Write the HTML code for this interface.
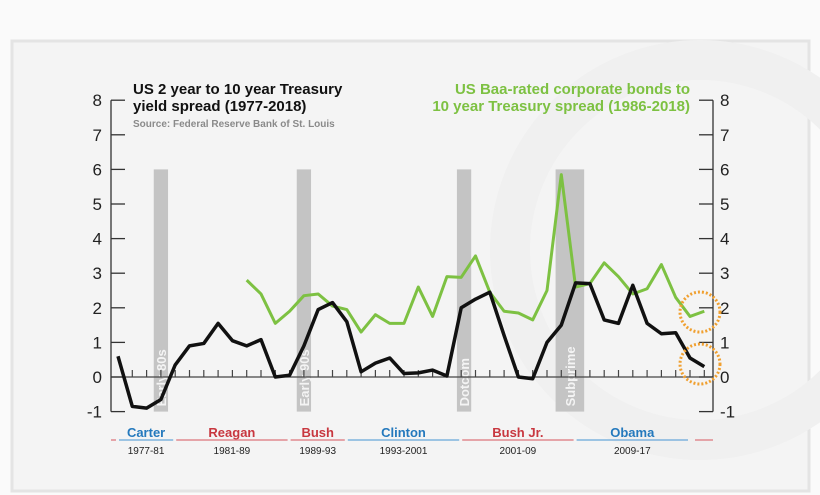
<!DOCTYPE html>
<html><head><meta charset="utf-8"><style>
body{margin:0;background:#fafafa;}
svg{display:block;font-family:"Liberation Sans",sans-serif;}
</style></head><body>
<svg width="820" height="495" viewBox="0 0 820 495">
<rect x="0" y="0" width="820" height="495" fill="#fafafa"/>
<rect x="12" y="41" width="797" height="450" fill="#f4f4f4" stroke="#e4e4e4" stroke-width="3"/>
<circle cx="700" cy="250" r="190" fill="none" stroke="#f0f0f0" stroke-width="40"/>
<g id="bars"></g>
<g id="axes"></g>
<g id="series"></g>
<g>
<text x="133" y="94" font-size="15" font-weight="bold" fill="#111">US 2 year to 10 year Treasury</text>
<text x="133" y="111" font-size="15" font-weight="bold" fill="#111">yield spread (1977-2018)</text>
<text x="133" y="127" font-size="10" font-weight="bold" fill="#8a8a8a">Source: Federal Reserve Bank of St. Louis</text>
</g>
<g text-anchor="end">
<text x="690" y="94" font-size="15" font-weight="bold" fill="#7dc142">US Baa-rated corporate bonds to</text>
<text x="690" y="111" font-size="15" font-weight="bold" fill="#7dc142">10 year Treasury spread (1986-2018)</text>
</g>
<g id="pres"></g>
<circle cx="700" cy="312" r="20" fill="none" stroke="#f0a030" stroke-width="3" stroke-dasharray="2 2"/>
<circle cx="700" cy="364" r="20" fill="none" stroke="#f0a030" stroke-width="3" stroke-dasharray="2 2"/>
</svg>
<script>
const years = [];
for (let y = 1977; y <= 2018; y++) years.push(y);
const treasurySpread = [0.6,-0.85,-0.9,-0.65,0.35,0.9,0.97,1.55,1.05,0.9,1.08,0.0,0.05,0.9,1.95,2.15,1.6,0.15,0.4,0.55,0.1,0.12,0.2,0.03,2.0,2.25,2.45,1.2,0.0,-0.05,1.0,1.5,2.72,2.7,1.65,1.55,2.65,1.55,1.25,1.28,0.55,0.3];
const baaYears = [];
for (let y = 1986; y <= 2018; y++) baaYears.push(y);
const baaSpread = [2.8,2.4,1.55,1.9,2.35,2.4,2.05,1.95,1.3,1.8,1.55,1.55,2.6,1.75,2.9,2.88,3.5,2.45,1.9,1.85,1.65,2.5,5.85,2.6,2.7,3.3,2.9,2.4,2.55,3.25,2.3,1.75,1.9];
const yTicks = [-1,0,1,2,3,4,5,6,7,8];
const recessionNames = ["Early 80s","Early 90s","Dotcom","Subprime"];
const recessionStart = [1979.5,1989.5,2000.7,2007.6];
const recessionEnd = [1980.5,1990.5,2001.7,2009.6];
const presNames = ["Carter","Reagan","Bush","Clinton","Bush Jr.","Obama"];
const presTerms = ["1977-81","1981-89","1989-93","1993-2001","2001-09","2009-17"];
const presStart = [1977,1981,1989,1993,2001,2009];
const presEnd = [1981,1989,1993,2001,2009,2017];
const presParty = ["D","R","R","D","R","D"];

const NS = "http://www.w3.org/2000/svg";
const xS = y => 118 + (y - 1977) * 14.3;
const yS = v => 377 - v * 34.6;
function mk(tag, attrs, parent, text){const e=document.createElementNS(NS,tag);for(const k in attrs)e.setAttribute(k,attrs[k]);if(text!==undefined)e.textContent=text;parent.appendChild(e);return e;}

const bars = document.getElementById('bars');
recessionNames.forEach((n,i)=>{
  const x0=xS(recessionStart[i]), x1=xS(recessionEnd[i]);
  const r=mk('rect',{x:x0,y:yS(6),width:x1-x0,height:yS(-1)-yS(6),fill:'#c4c4c4'},bars);
  
  
  const cx=(x0+x1)/2;
  const t=mk('text',{x:0,y:0,transform:`translate(${cx+5},${yS(-0.85)}) rotate(-90)`,'font-size':13,'font-weight':'bold',fill:'#f4f4f4'},bars,n);
  
  
});

const ax = document.getElementById('axes');
mk('line',{x1:111,y1:yS(8),x2:111,y2:yS(-1),stroke:'#333','stroke-width':1.3},ax);
mk('line',{x1:713,y1:yS(8),x2:713,y2:yS(-1),stroke:'#333','stroke-width':1.3},ax);
const zl=mk('line',{x1:111,y1:yS(0),x2:713,y2:yS(0),stroke:'#444','stroke-width':1.3},ax);


yTicks.forEach(v=>{
  mk('line',{x1:111,y1:yS(v),x2:125,y2:yS(v),stroke:'#333','stroke-width':1.3},ax);
  mk('line',{x1:699,y1:yS(v),x2:713,y2:yS(v),stroke:'#333','stroke-width':1.3},ax);
  const l=mk('text',{x:102,y:yS(v)+6,'text-anchor':'end','font-size':17,fill:'#222'},ax,String(v));
  
  
  const r=mk('text',{x:720,y:yS(v)+6,'font-size':17,fill:'#222'},ax,String(v));
  
  
});
years.forEach(y=>{ if(y>1977) mk('line',{x1:xS(y),y1:yS(0)-7,x2:xS(y),y2:yS(0),stroke:'#444','stroke-width':1.2},ax); });

const se = document.getElementById('series');
const gp = mk('polyline',{points:baaSpread.map((v,i)=>xS(baaYears[i])+','+yS(v)).join(' '),fill:'none',stroke:'#7dc142','stroke-width':3,'stroke-linejoin':'round'},se);


const bp = mk('polyline',{points:treasurySpread.map((v,i)=>xS(years[i])+','+yS(v)).join(' '),fill:'none',stroke:'#111','stroke-width':3.5,'stroke-linejoin':'round'},se);



const pg = document.getElementById('pres');
const col = p => p==='D' ? '#2479bd' : '#c8373f';
const lcol = p => p==='D' ? '#7fb3dd' : '#e08a8f';
mk('line',{x1:111,y1:440,x2:116,y2:440,stroke:lcol('R'),'stroke-width':1.5},pg);
mk('line',{x1:695,y1:440,x2:713,y2:440,stroke:lcol('R'),'stroke-width':1.5},pg);
presNames.forEach((n,i)=>{
  const x0=xS(presStart[i])+1, x1=xS(presEnd[i])-2, cx=(x0+x1)/2;
  const ln=mk('line',{x1:x0,y1:440,x2:x1,y2:440,stroke:lcol(presParty[i]),'stroke-width':1.5},pg);
  
  
  const t=mk('text',{x:cx,y:437,'text-anchor':'middle','font-size':13,'font-weight':'bold',fill:col(presParty[i])},pg,n);
  
  
  const d=mk('text',{x:cx,y:454,'text-anchor':'middle','font-size':10,fill:'#222'},pg,presTerms[i]);
  
  
});
</script>
</body></html>
